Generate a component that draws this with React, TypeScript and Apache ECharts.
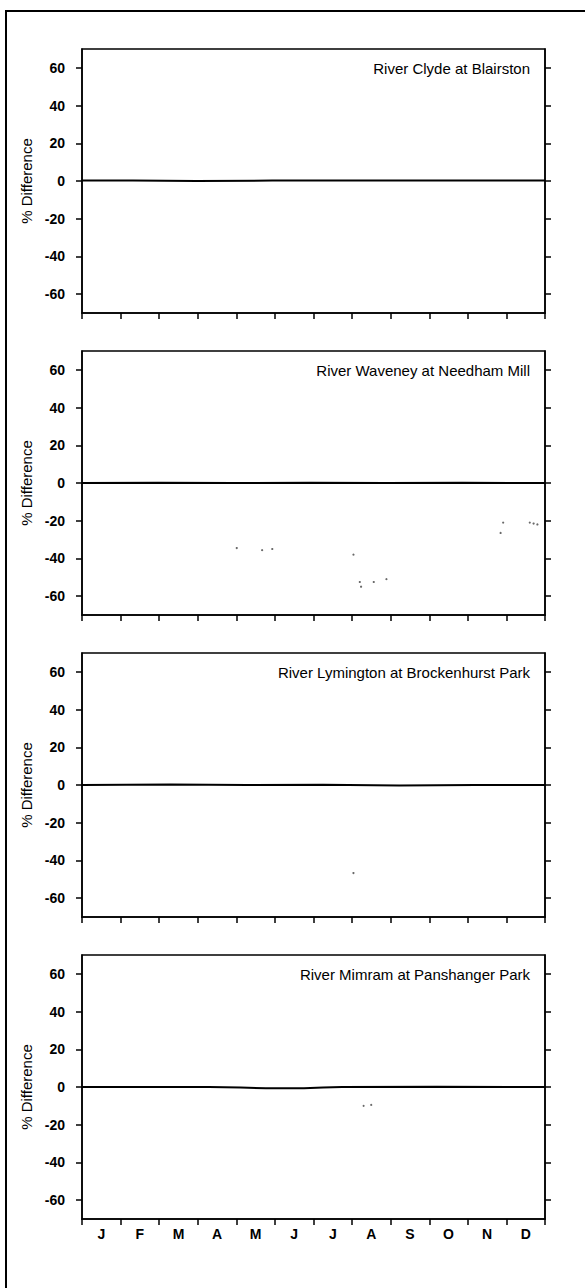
import React, { useEffect, useRef } from "react";
import * as echarts from "echarts";

// ---- data ----
const months = ["J", "F", "M", "A", "M", "J", "J", "A", "S", "O", "N", "D"];
const yTicks = [-60, -40, -20, 0, 20, 40, 60];
const panelTitles = [
  "River Clyde at Blairston",
  "River Waveney at Needham Mill",
  "River Lymington at Brockenhurst Park",
  "River Mimram at Panshanger Park",
];

// daily % difference traces: [day of year, % difference]
const clydeLine = [[0, 0.2], [40, 0.3], [90, 0], [150, 0.2], [200, 0.3], [260, 0.3], [320, 0.2], [365, 0.3]];
const waveneyLine = [[0, 0], [60, 0.1], [120, 0], [180, 0.1], [240, 0], [300, 0.1], [365, 0]];
const lymingtonLine = [[0, 0], [70, 0.2], [130, 0], [190, 0.1], [250, -0.2], [310, 0], [365, 0]];
const mimramLine = [[0, 0], [100, 0], [125, -0.3], [145, -0.7], [175, -0.7], [190, -0.3], [205, 0], [280, 0.1], [365, 0]];

// isolated points
const clydePoints: number[][] = [];
const waveneyPoints = [
  [122, -34.5], [142, -35.6], [150, -35], [214, -38], [219, -52.5], [220, -55],
  [230, -52.5], [240, -51], [330, -26.5], [332, -21], [353, -21], [356, -21.5], [359, -22],
];
const lymingtonPoints = [[214, -46.7]];
const mimramPoints = [[222, -10], [228, -9.5]];

const lines = [clydeLine, waveneyLine, lymingtonLine, mimramLine];
const points = [clydePoints, waveneyPoints, lymingtonPoints, mimramPoints];

export default function App() {
  const ref = useRef<HTMLDivElement>(null);
  useEffect(() => {
    if (!ref.current) return;
    const chart = echarts.init(ref.current, undefined, { renderer: "svg" });
    const tops = [49, 351, 653, 955];
    const gridH = 264;
    const left = 82;
    const width = 463;
    const axisColor = "#000";

    const grid: any[] = [];
    const xAxis: any[] = [];
    const yAxis: any[] = [];
    const series: any[] = [];
    const graphic: any[] = [
      {
        type: "rect",
        shape: { x: 6, y: 11, width: 640, height: 1340 },
        style: { fill: "none", stroke: "#000", lineWidth: 2 },
        silent: true,
      },
    ];

    tops.forEach((top, i) => {
      grid.push({ left, top, width, height: gridH, show: true, borderColor: "#000", borderWidth: 1.5, backgroundColor: "transparent" });
      xAxis.push({
        type: "category",
        gridIndex: i,
        data: months,
        position: "bottom",
        boundaryGap: true,
        axisLine: { show: true, onZero: false, lineStyle: { color: axisColor, width: 1.5 } },
        axisTick: { show: true, inside: false, length: 6, interval: 0, lineStyle: { color: axisColor, width: 1.5 } },
        axisLabel: {
          show: i === 3,
          interval: 0,
          margin: 8,
          color: "#000",
          fontSize: 14,
          fontWeight: "bold",
          fontFamily: "Liberation Sans",
        },
        splitLine: { show: false },
      });
      xAxis.push({ type: "value", gridIndex: i, min: 0, max: 365, show: false });
      yAxis.push({
        type: "value",
        gridIndex: i,
        min: -70,
        max: 70,
        position: "left",
        name: "% Difference",
        nameLocation: "middle",
        nameRotate: 90,
        nameGap: 43,
        nameTextStyle: { color: "#000", fontSize: 15, fontFamily: "Liberation Sans" },
        axisLine: { show: true, onZero: false, lineStyle: { color: axisColor, width: 1.5 } },
        axisTick: { show: true, inside: false, length: 6, customValues: yTicks, lineStyle: { color: axisColor, width: 1.5 } },
        axisLabel: {
          show: true,
          customValues: yTicks,
          margin: 17,
          color: "#000",
          fontSize: 14,
          fontWeight: "bold",
          fontFamily: "Liberation Sans",
        },
        splitLine: { show: false },
      });
      yAxis.push({
        type: "value",
        gridIndex: i,
        min: -70,
        max: 70,
        position: "right",
        axisLine: { show: true, onZero: false, lineStyle: { color: axisColor, width: 1.5 } },
        axisTick: { show: true, inside: false, length: 6, customValues: yTicks, lineStyle: { color: axisColor, width: 1.5 } },
        axisLabel: { show: false },
        splitLine: { show: false },
      });
      series.push({
        type: "line",
        xAxisIndex: 2 * i + 1,
        yAxisIndex: 2 * i,
        data: lines[i],
        showSymbol: false,
        symbol: "none",
        lineStyle: { color: "#000", width: 2 },
        silent: true,
        z: 3,
      });
      series.push({
        type: "scatter",
        xAxisIndex: 2 * i + 1,
        yAxisIndex: 2 * i,
        data: points[i],
        symbol: "circle",
        symbolSize: 2.2,
        itemStyle: { color: "#444" },
        silent: true,
      });
      graphic.push({
        type: "text",
        x: 530,
        y: top + 19,
        style: {
          text: panelTitles[i],
          fill: "#000",
          font: "15px 'Liberation Sans'",
          textAlign: "right",
          textVerticalAlign: "middle",
        },
        silent: true,
      });
    });

    chart.setOption({
      animation: false,
      backgroundColor: "#fff",
      grid,
      xAxis,
      yAxis,
      series,
      graphic,
    });
    return () => chart.dispose();
  }, []);
  return (
    <div
      ref={ref}
      style={{ position: "absolute", left: 0, top: 0, width: 585, height: 1288 }}
    />
  );
}
